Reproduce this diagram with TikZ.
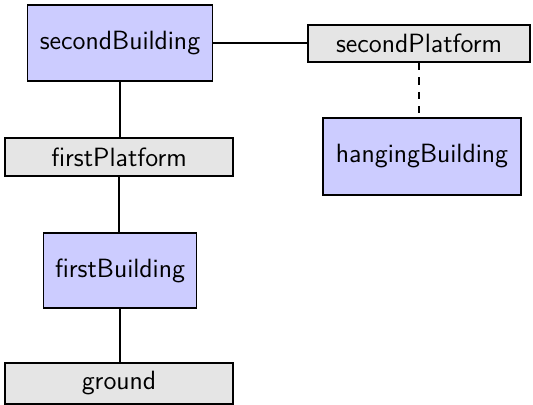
\documentclass[tikz,border=0pt]{standalone}
\usepackage{tikz}
\tikzset{
  px/.style={x=0.4167pt,y=-0.4167pt},
  bldg/.style={draw,thick,fill=blue!20,font=\sffamily\fontsize{11}{13}\selectfont,inner sep=0pt,anchor=center},
  plat/.style={draw,thick,fill=gray!20,font=\sffamily\fontsize{11}{13}\selectfont,inner sep=0pt,anchor=center},
  link/.style={thick}
}
\begin{document}
\begin{tikzpicture}[px]
\useasboundingbox (0,0) rectangle (533,404);
\node[bldg,minimum width=185*0.4167pt,minimum height=76*0.4167pt] (sB) at (120,43) {secondBuilding};
\node[plat,minimum width=222*0.4167pt,minimum height=37*0.4167pt] (sP) at (419,43.5) {secondPlatform};
\node[bldg,minimum width=198*0.4167pt,minimum height=77*0.4167pt] (hB) at (422,156.5) {hangingBuilding};
\node[plat,minimum width=228*0.4167pt,minimum height=38*0.4167pt] (fP) at (119,157) {firstPlatform};
\node[bldg,minimum width=153*0.4167pt,minimum height=75*0.4167pt] (fB) at (120,270.5) {firstBuilding};
\node[plat,minimum width=228*0.4167pt,minimum height=41*0.4167pt] (g) at (119,383.5) {ground};
\draw[link] (sB.east) -- (sB.east -| sP.west);
\draw[link,dashed] (sP.south) -- (sP.south |- hB.north);
\draw[link] (sB.south) -- (sB.south |- fP.north);
\draw[link] (fP.south) -- (fP.south |- fB.north);
\draw[link] (fB.south) -- (fB.south |- g.north);
\end{tikzpicture}
\end{document}
